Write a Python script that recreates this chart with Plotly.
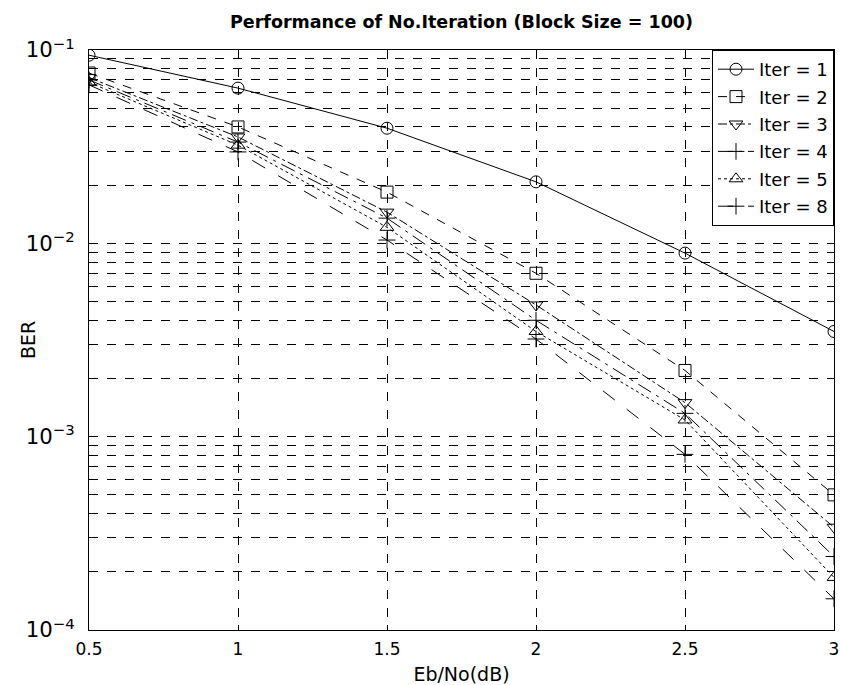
import plotly.graph_objects as go

ebno = [0.5, 1, 1.5, 2, 2.5, 3]
iter1 = [0.094, 0.0635, 0.0394, 0.0208, 0.0089, 0.0035]
iter2 = [0.076, 0.040, 0.0184, 0.0070, 0.0022, 0.0005]
iter3 = [0.072, 0.0355, 0.0145, 0.0048, 0.0015, 0.00034]
iter4 = [0.070, 0.0334, 0.0135, 0.0040, 0.00132, 0.00024]
iter5 = [0.068, 0.0322, 0.0121, 0.0035, 0.00122, 0.000187]
iter8 = [0.066, 0.0297, 0.0104, 0.0032, 0.00081, 0.000145]
names = ["Iter = 1", "Iter = 2", "Iter = 3", "Iter = 4", "Iter = 5", "Iter = 8"]
xticklabels = ["0.5", "1", "1.5", "2", "2.5", "3"]

symbols = ["circle-open", "square-open", "triangle-down-open",
           "cross-thin-open", "triangle-up-open", "cross-thin-open"]
dashes = ["solid", "dash", "dashdot", "longdashdot", "dot", "longdash"]

FONT = "DejaVu Sans, Liberation Sans, Arial, sans-serif"

fig = go.Figure()
for i, (name, vals) in enumerate(zip(names, [iter1, iter2, iter3, iter4, iter5, iter8])):
    fig.add_trace(go.Scatter(
        x=ebno, y=vals, name=name, mode="lines+markers",
        legendgroup=f"g{i}",
        line=dict(color="black", width=1, dash=dashes[i]),
        marker=dict(symbol=symbols[i], size=12, color="black",
                    line=dict(color="black", width=1)),
    ))

fig.update_layout(
    width=843, height=685,
    margin=dict(l=89, r=9, t=50, b=55, autoexpand=False),
    paper_bgcolor="white", plot_bgcolor="white",
    font=dict(family=FONT, size=17, color="black"),
    title=dict(text="<b>Performance of No.Iteration (Block Size = 100)</b>",
               x=0.5, xanchor="center", xref="paper",
               y=1 - 22 / 685, yanchor="middle", yref="container",
               font=dict(size=17.5, family=FONT, color="black")),
    showlegend=True,
    legend=dict(x=1, xanchor="right", y=1, yanchor="top",
                bgcolor="white", bordercolor="black", borderwidth=1,
                traceorder="grouped", tracegroupgap=1, itemwidth=36,
                font=dict(size=18, family=FONT, color="black")),
    annotations=[dict(text="BER", textangle=-90, showarrow=False,
                      xref="paper", yref="paper", x=(28 - 89) / 745, y=0.5,
                      xanchor="center", yanchor="middle",
                      font=dict(size=19, family=FONT, color="black"))],
)

fig.update_xaxes(
    range=[0.5, 3], tickvals=ebno, ticktext=xticklabels, automargin=False,
    showline=True, linecolor="black", linewidth=1, mirror="ticks",
    ticks="inside", ticklen=5, tickcolor="black", ticklabelstandoff=4,
    showgrid=True, gridcolor="black", gridwidth=1, griddash="dash",
    zeroline=False,
    tickfont=dict(size=17, family=FONT, color="black"),
    title=dict(text="Eb/No(dB)", standoff=14, font=dict(size=19, family=FONT)),
)
fig.update_yaxes(
    type="log", range=[-4, -1], dtick=1, exponentformat="power", automargin=False,
    showline=True, linecolor="black", linewidth=1, mirror="ticks",
    ticks="inside", ticklen=5, tickcolor="black", ticklabelstandoff=10,
    showgrid=True, gridcolor="black", gridwidth=1, griddash="dash",
    minor=dict(dtick="D1", showgrid=True, gridcolor="black", gridwidth=1,
               griddash="dash", ticks="inside", ticklen=3, tickcolor="black"),
    zeroline=False,
    tickfont=dict(size=17, family=FONT, color="black"),
)

fig.write_html("out.html")
